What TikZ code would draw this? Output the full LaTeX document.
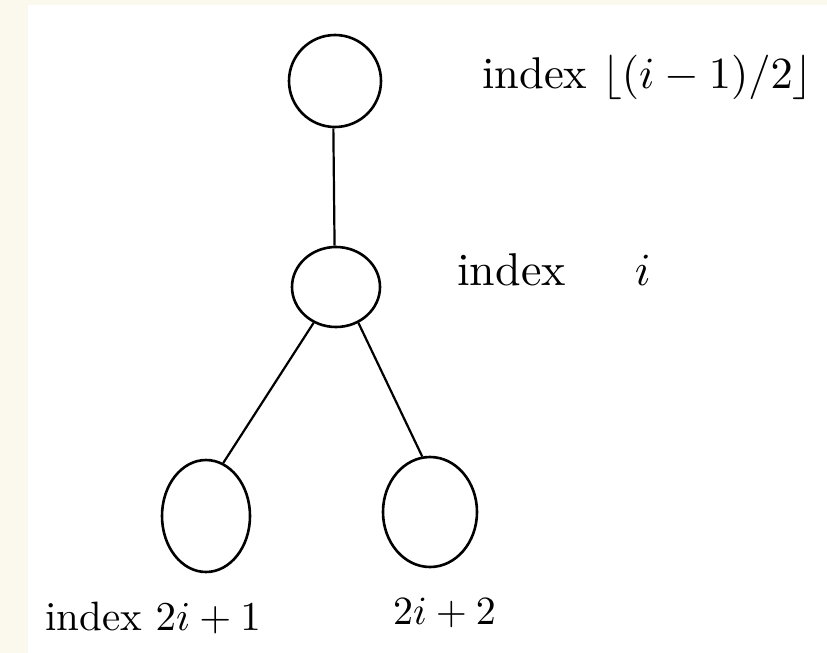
\documentclass[tikz,border=0pt]{standalone}
\usetikzlibrary{shapes.geometric}
\definecolor{cream}{HTML}{FBF8EE}
\newcommand{\bigtxt}[2][4.6]{\scalebox{#1}{#2}}
\tikzset{
  hnode/.style={draw=black, line width=2.6pt, ellipse, inner sep=0pt},
  edge/.style={draw=black, line width=2.2pt},
  lbl/.style={inner sep=0pt},
}
\begin{document}
\begin{tikzpicture}[x=1pt,y=-1pt]
\fill[cream] (0,0) rectangle (827,653);
\fill[white] (28,5) rectangle (827,653);
\useasboundingbox (0,0) rectangle (827,653);

\node[hnode, minimum width=92pt, minimum height=92pt] (top) at (335,81) {};
\node[hnode, minimum width=88pt, minimum height=80pt] (mid) at (336,287) {};
\node[hnode, minimum width=88pt, minimum height=112pt] (left) at (206,516) {};
\node[hnode, minimum width=94pt, minimum height=110pt] (right) at (430,512) {};

\draw[edge] (top.-92) -- (mid.92);
\draw[edge] (mid.-122) -- (left.72);
\draw[edge] (mid.-58) -- (right.98);

\node[lbl, anchor=base west] (tparent) at (482,88) {\bigtxt[4.45]{index $\lfloor(i-1)/2\rfloor$}};
\node[lbl, anchor=base west] (tmid) at (457,285) {\bigtxt{index\hspace{15pt}$i$}};
\node[lbl, anchor=base west] (tleft) at (45,630) {\bigtxt[4.1]{index $2i+1$}};
\node[lbl, anchor=base west] (tright) at (393,624) {\bigtxt[4.0]{$2i+2$}};
\end{tikzpicture}
\end{document}
